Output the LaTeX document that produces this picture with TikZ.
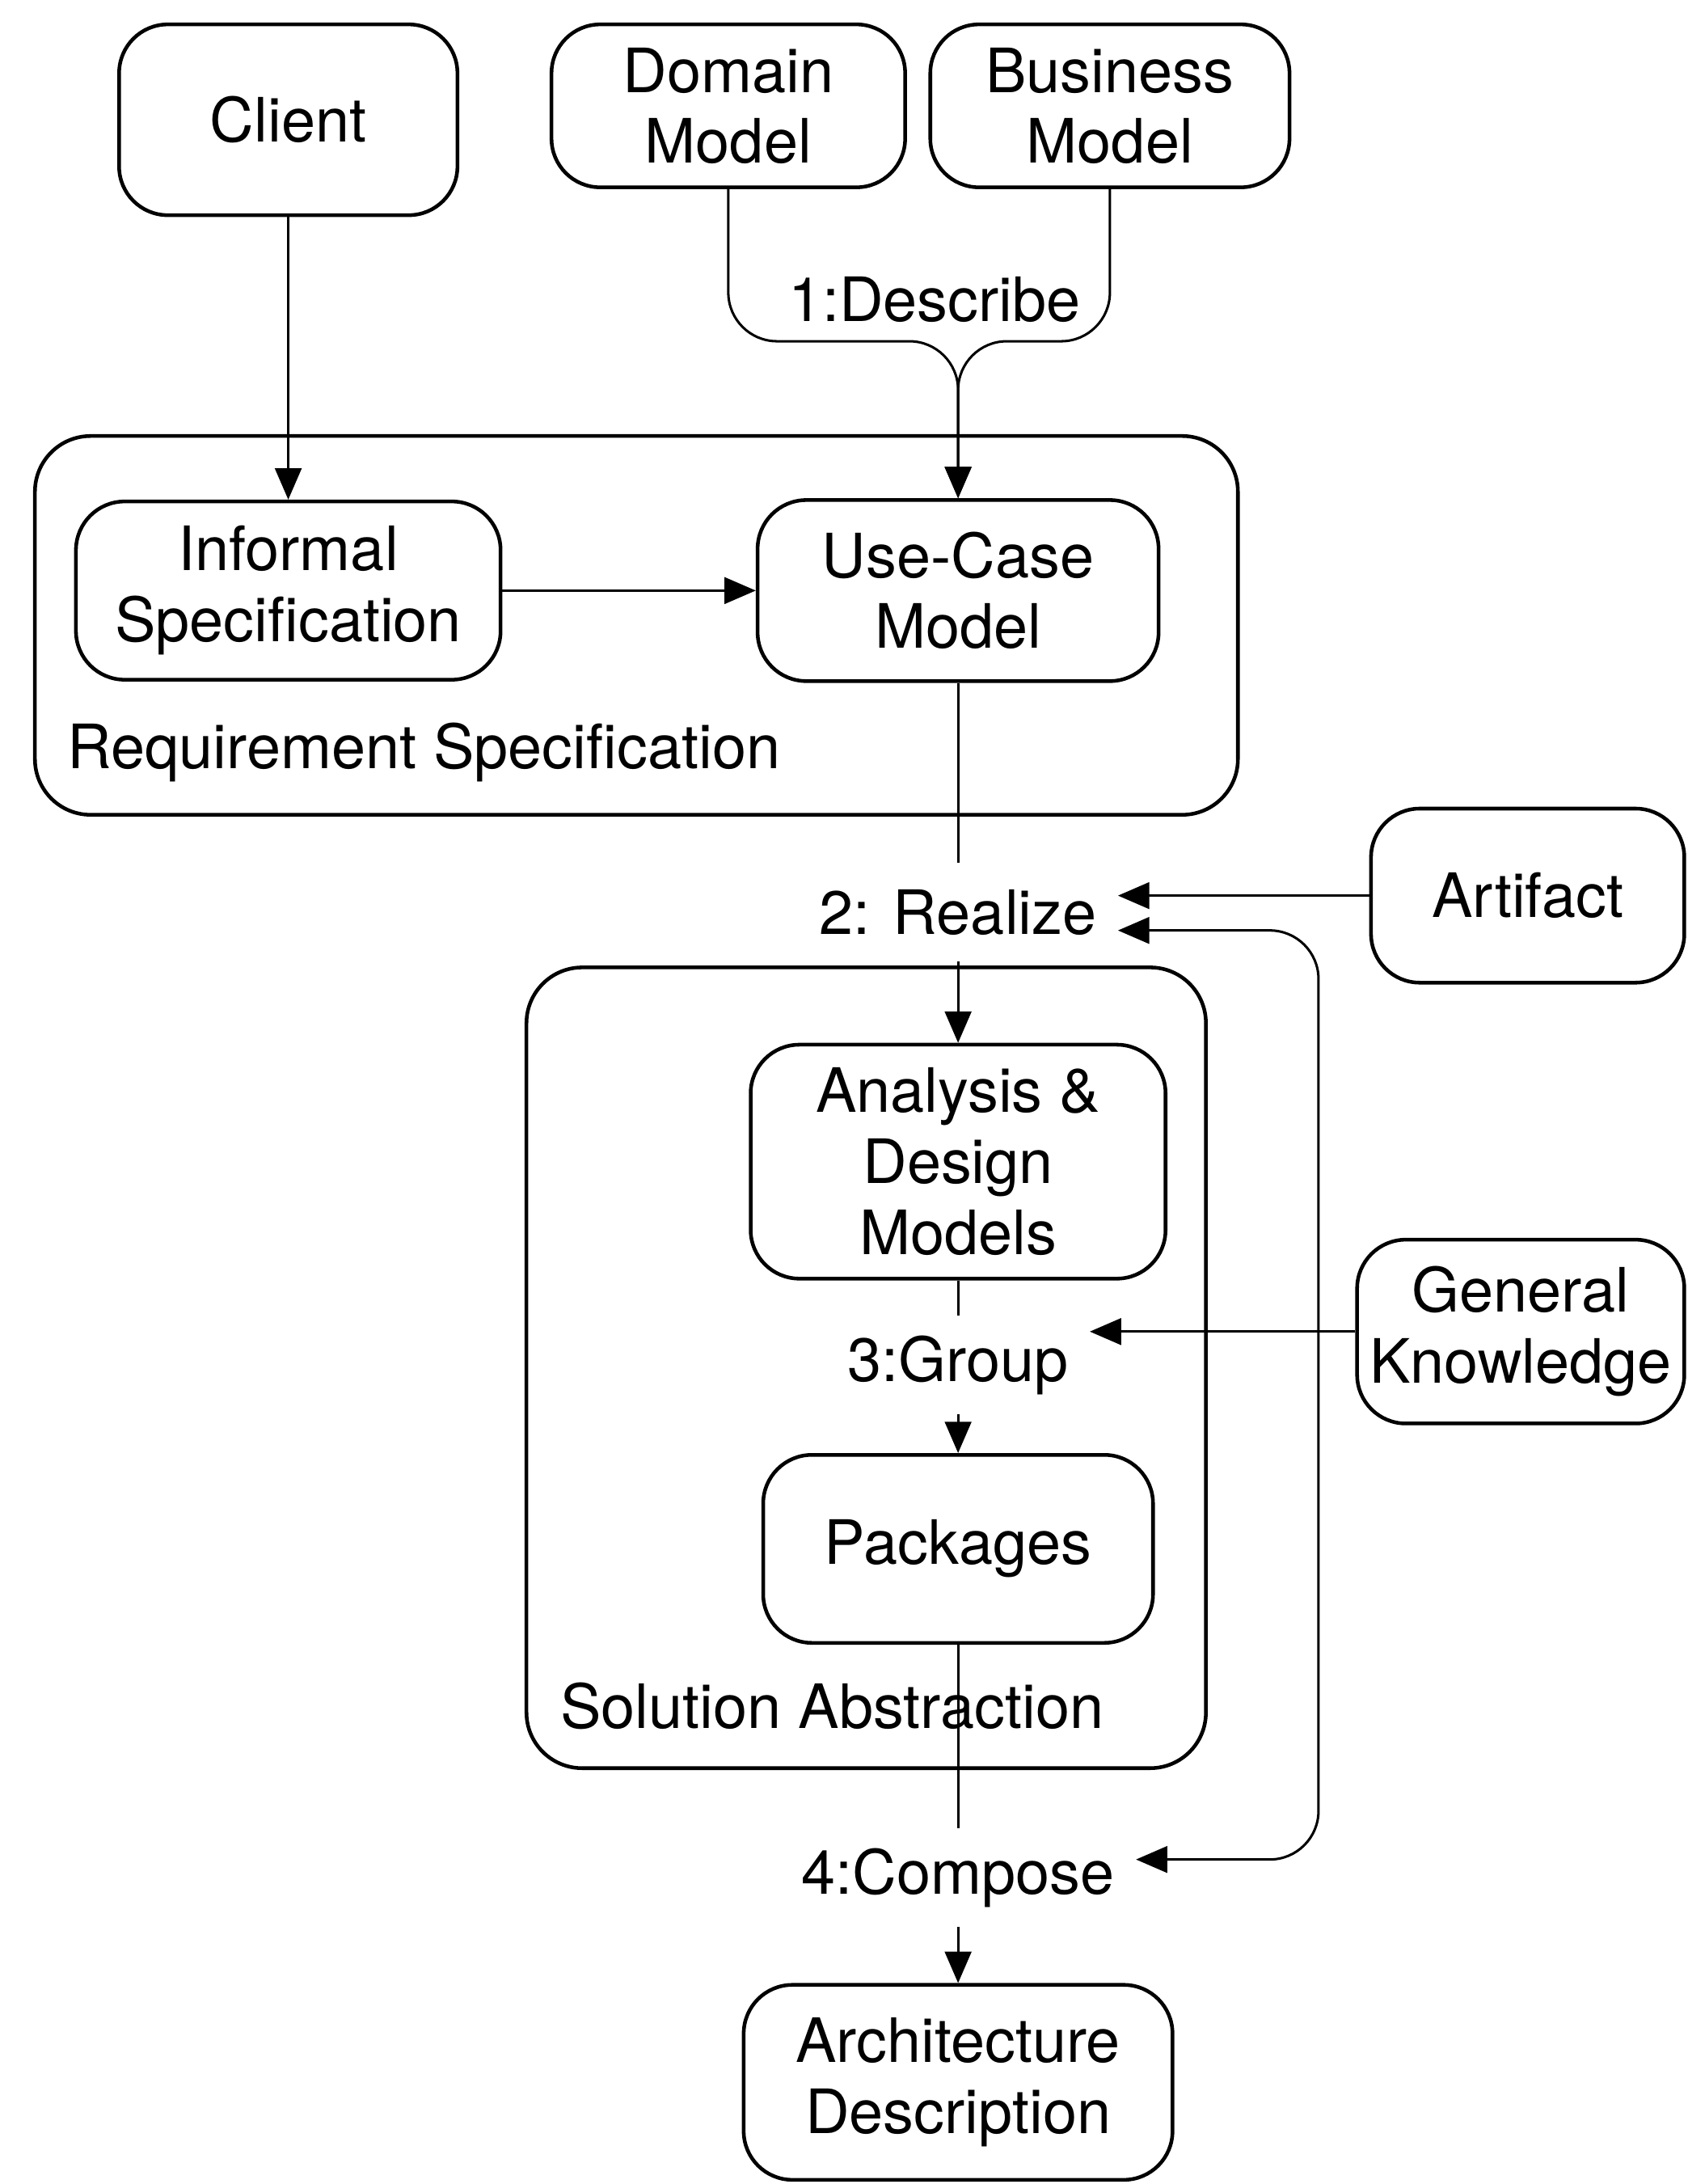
\documentclass[tikz,border=0pt]{standalone}
\usepackage{fontspec}
\setmainfont{TeX Gyre Heros}
\usepackage{tikz}
\usetikzlibrary{arrows.meta,positioning,calc}

\begin{document}
\begin{tikzpicture}[x=0.02cm, y=-0.02cm, every node/.style={font=\fontsize{25}{29}\selectfont}]
\tikzstyle{block}=[draw, line width=1.5pt, rounded corners=0.7cm, align=center, inner sep=2pt]
\tikzstyle{area}=[draw, line width=1.5pt, rounded corners=0.8cm]
\tikzstyle{activity}=[minimum height=1.4cm, inner xsep=0.3cm, inner ysep=0pt]
\tikzstyle{link}=[line width=1pt]
\tikzstyle{flow}=[line width=1pt, -{Triangle[length=0.45cm,width=0.38cm]}]
\tikzstyle{twoway}=[line width=1pt, {Triangle[length=0.45cm,width=0.38cm]}-{Triangle[length=0.45cm,width=0.38cm]}]

\useasboundingbox (0,0) rectangle (1212,1568);

% containers
\node (reqspec) [area, minimum width=17.28cm, minimum height=5.44cm] at (457,449) {};
\node (solabs) [area, minimum width=9.76cm, minimum height=11.5cm] at (622,982) {};
\node (reqlabel) [anchor=west, inner sep=0pt] at (48,540) {Requirement Specification};
\node (sollabel) [anchor=west, inner sep=0pt] at (402,1225) {Solution Abstraction};

% models
\node (client) [block, minimum width=4.86cm, minimum height=2.74cm] at (207,86) {Client};
\node (domain) [block, minimum width=5.08cm, minimum height=2.34cm] at (523,76) {Domain\\Model};
\node (business) [block, minimum width=5.16cm, minimum height=2.34cm] at (797,76) {Business\\Model};
\node (informal) [block, minimum width=6.1cm, minimum height=2.56cm] at (207,424) {Informal\\Specification};
\node (usecase) [block, minimum width=5.76cm, minimum height=2.6cm] at (688,424) {Use-Case\\Model};
\node (artifact) [block, minimum width=4.5cm, minimum height=2.5cm] at (1097,643) {Artifact};
\node (analysis) [block, minimum width=5.96cm, minimum height=3.36cm] at (688,834) {Analysis \&\\Design\\Models};
\node (general) [block, minimum width=4.7cm, minimum height=2.64cm] at (1092,956) {General\\Knowledge};
\node (packages) [block, minimum width=5.6cm, minimum height=2.7cm] at (688,1112) {Packages};
\node (architecture) [block, minimum width=6.16cm, minimum height=2.8cm] at (688,1495) {Architecture\\Description};

% activities
\node (describe) at (671,215) {1:Describe};
\node (realize) [activity] at (688,655) {2: Realize};
\node (grouping) [activity] at (688,980) {3:Group};
\node (compose) [activity] at (688,1348) {4:Compose};

\coordinate (join) at (688,245);

\draw [flow] (client) -- (informal);
\draw [flow] (informal) -- (usecase);
\draw [flow, rounded corners=0.7cm] (domain.south) |- (join) -- (usecase.north);
\draw [flow, rounded corners=0.7cm] (business.south) |- (join) -- (usecase.north);

\draw [link] (usecase) -- (realize);
\draw [flow] (realize) -- (analysis);
\draw [flow] (artifact.west) -- (artifact.west -| realize.east);
\draw [twoway, rounded corners=0.7cm] ([yshift=-0.26cm]realize.east) -- ++(144,0) |- ([yshift=0.26cm]compose.east);

\draw [link] (analysis) -- (grouping);
\draw [flow] (grouping) -- (packages);
\draw [flow] (general.west) -- (general.west -| grouping.east);

\draw [link] (packages) -- (compose);
\draw [flow] (compose) -- (architecture);

\end{tikzpicture}
\end{document}
